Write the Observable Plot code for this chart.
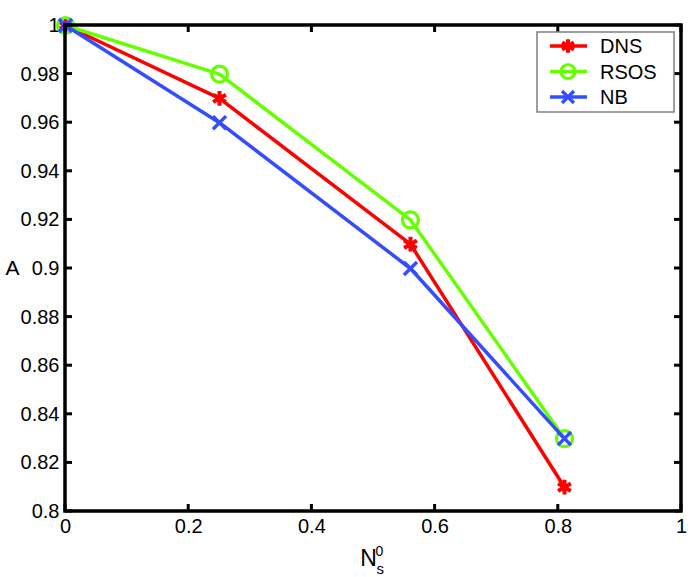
<!DOCTYPE html>
<html>
<head>
<meta charset="utf-8">
<script src="https://cdn.jsdelivr.net/npm/d3@7"></script>
<script src="https://cdn.jsdelivr.net/npm/@observablehq/plot@0.6"></script>
<style>
  html, body { margin: 0; padding: 0; background: #fff; }
  svg { font-family: "Liberation Sans", Arial, sans-serif; }
</style>
</head>
<body>
<div id="chart"></div>
<script>
const xValues = [0, 0.25, 0.56, 0.81];
const dns  = [1.00, 0.97, 0.91, 0.81];
const rsos = [1.00, 0.98, 0.92, 0.83];
const nb   = [1.00, 0.96, 0.90, 0.83];
const seriesNames = ["DNS", "RSOS", "NB"];
const seriesColors = ["#ff0000", "#66ff00", "#334dff"];
const seriesSymbols = ["asterisk", "circle", "times"];
const xTicks = [0, 0.2, 0.4, 0.6, 0.8, 1];
const yTicks = [0.8, 0.82, 0.84, 0.86, 0.88, 0.9, 0.92, 0.94, 0.96, 0.98, 1];
const xDomain = [0, 1];
const yDomain = [0.8, 1];

const allSeries = [dns, rsos, nb];
const rows = allSeries.map((vals, i) =>
  xValues.map((x, j) => ({x, y: vals[j], name: seriesNames[i]})));

const W = 692, H = 577, mL = 65, mR = 11, mT = 25, mB = 66;
const tl = 7;

const fmt = d => String(+d.toFixed(2));
const fs = 20;
const markerR = [7, 8, 6];
const markerW = [4, 3.2, 3.4];

const marks = [
  Plot.axisX({anchor: "bottom", ticks: xTicks, tickSize: 0, tickPadding: 7, tickFormat: fmt, fontSize: fs, label: null, fill: "black"}),
  Plot.axisY({anchor: "left", ticks: yTicks, tickSize: 0, tickPadding: 6, tickFormat: fmt, fontSize: fs, label: null, fill: "black"}),
  Plot.text(["A"], {frameAnchor: "left", dx: -60, textAnchor: "start", fontSize: 21, fill: "black"}),
  Plot.text(["N"], {frameAnchor: "bottom", dx: -5, dy: 54, lineAnchor: "bottom", fontSize: 23, fill: "black"}),
  Plot.text(["0"], {frameAnchor: "bottom", dx: 2, dy: 44, lineAnchor: "bottom", textAnchor: "start", fontSize: 14, fill: "black"}),
  Plot.text(["s"], {frameAnchor: "bottom", dx: 3, dy: 62, lineAnchor: "bottom", textAnchor: "start", fontSize: 15, fill: "black"})
];
rows.forEach((data, i) => {
  marks.push(Plot.line(data, {x: "x", y: "y", stroke: seriesColors[i], strokeWidth: 3.5}));
  marks.push(Plot.dot(data, {x: "x", y: "y", symbol: seriesSymbols[i], stroke: seriesColors[i], strokeWidth: markerW[i], fill: "none", r: markerR[i]}));
});

const plot = Plot.plot({
  width: W,
  height: H,
  marginLeft: mL,
  marginRight: mR,
  marginTop: mT,
  marginBottom: mB,
  style: {fontFamily: '"Liberation Sans", Arial, sans-serif', background: "#fff", color: "black"},
  x: {domain: xDomain},
  y: {domain: yDomain},
  marks
});
document.getElementById("chart").appendChild(plot);

const svg = d3.select(plot);
const sx = plot.scale("x"), sy = plot.scale("y");
const X = v => sx.apply(v), Y = v => sy.apply(v);
const x0 = X(xDomain[0]), x1 = X(xDomain[1]), y0 = Y(yDomain[0]), y1 = Y(yDomain[1]);

// Box axes with inward ticks (drawn on top so nothing hides them)
const box = svg.append("g").attr("stroke", "black").attr("fill", "none");
xTicks.forEach(t => {
  box.append("line").attr("x1", X(t)).attr("x2", X(t)).attr("y1", y0).attr("y2", y0 - tl).attr("stroke-width", 3);
  box.append("line").attr("x1", X(t)).attr("x2", X(t)).attr("y1", y1).attr("y2", y1 + tl).attr("stroke-width", 3);
});
yTicks.forEach(t => {
  box.append("line").attr("y1", Y(t)).attr("y2", Y(t)).attr("x1", x0).attr("x2", x0 + tl).attr("stroke-width", 3);
  box.append("line").attr("y1", Y(t)).attr("y2", Y(t)).attr("x1", x1).attr("x2", x1 - tl).attr("stroke-width", 3);
});
box.append("path")
  .attr("d", `M${x0},${y1}H${x1}V${y0}H${x0}Z`)
  .attr("stroke-width", 3.5).attr("stroke-linejoin", "miter");

// Legend
const lg = svg.append("g").attr("text-anchor", "start");
lg.append("rect").attr("x", 537).attr("y", 32).attr("width", 137).attr("height", 80)
  .attr("fill", "white").attr("stroke", "#7f7f7f").attr("stroke-width", 1.5);
seriesNames.forEach((name, i) => {
  const cy = 46 + i * 25.5;
  const g = lg.append("g");
  g.append("line").attr("x1", 550).attr("x2", 587).attr("y1", cy).attr("y2", cy)
    .attr("stroke", seriesColors[i]).attr("stroke-width", 3.5);
  const sym = seriesSymbols[i] === "asterisk" ? d3.symbolAsterisk : seriesSymbols[i] === "circle" ? d3.symbolCircle : d3.symbolTimes;
  const r = [6.5, 7, 5.5][i];
  g.append("path").attr("d", d3.symbol(sym, Math.PI * r * r)())
    .attr("transform", `translate(568,${cy})`)
    .attr("fill", "none").attr("stroke", seriesColors[i]).attr("stroke-width", markerW[i]);
  g.append("text").attr("x", 600).attr("y", cy).attr("dy", "0.36em")
    .attr("text-anchor", "start")
    .attr("font-size", fs).attr("fill", "black").text(name);
});
</script>
</body>
</html>
